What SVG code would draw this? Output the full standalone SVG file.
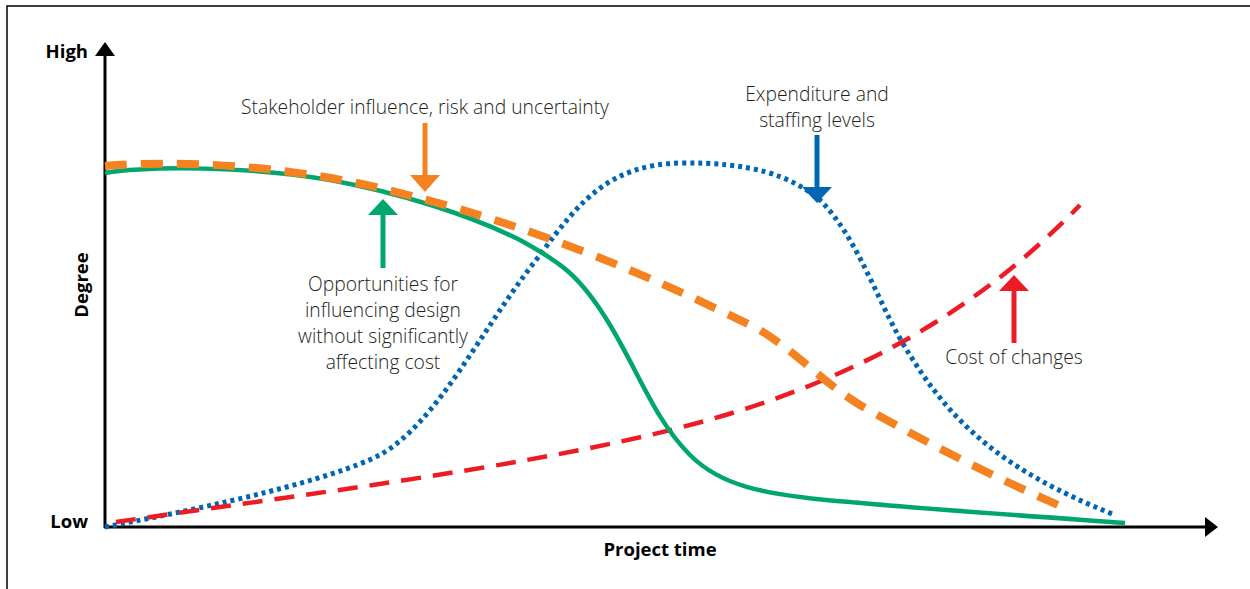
<svg xmlns="http://www.w3.org/2000/svg" width="1250" height="589" viewBox="0 0 1250 589">
<style>
.lbl{font-family:"Open Sans","Liberation Sans",sans-serif;font-size:19.3px;fill:#231f20;font-weight:300}
.ax{font-family:"Open Sans","Liberation Sans",sans-serif;font-size:18.5px;font-weight:700;fill:#000}
.axis{stroke:#000;stroke-width:3;fill:none}
</style>
<rect width="1250" height="589" fill="#fff"/>
<path d="M7,589 V6 H1250" fill="none" stroke="#000" stroke-width="1.5"/>
<g id="axes">
<path class="axis" d="M105,528 V52"/>
<path d="M95,56 L105,42 L115,56 Z" fill="#000"/>
<path class="axis" d="M104,527 H1207"/>
<path d="M1205,517 L1218,527 L1205,537 Z" fill="#000"/>
<text class="ax" x="88" y="58" text-anchor="end">High</text>
<text class="ax" x="88" y="528" text-anchor="end">Low</text>
<text class="ax" x="660" y="556" text-anchor="middle">Project time</text>
<text class="ax" transform="translate(88,285) rotate(-90)" text-anchor="middle">Degree</text>
</g>
<g id="connectors">
<path id="expenditure" d="M105,527 C220,505 330,480 380,455 C440,420 480,330 540,255 C580,200 610,165 680,163 C750,162 790,175 820,200 C860,240 880,310 910,355 C950,420 1000,470 1115,515" fill="none" stroke="#0066b3" stroke-width="5" stroke-dasharray="4 4"/>
<path id="cost" d="M116,522 C300,495 500,470 650,435 C800,400 950,340 1080,205" fill="none" stroke="#ed1c24" stroke-width="4.5" stroke-dasharray="20 12"/>
<path id="opportunities" d="M105,173 C150,166 250,166 330,180 C400,193 470,215 520,240 C560,262 580,275 610,325 C640,375 655,420 690,455 C720,485 760,495 850,502 C900,507 1000,514 1125,523" fill="none" stroke="#00a66e" stroke-width="4.5"/>
<path id="stakeholder" d="M105,166 C180,160 280,165 380,188 C480,212 600,250 760,330 C800,355 820,380 860,405 C930,445 1000,480 1065,508" fill="none" stroke="#f58220" stroke-width="8" stroke-dasharray="22 14"/>
</g>
<g id="arrow-stakeholder">
<path d="M425,123 V178" stroke="#f58220" stroke-width="5"/>
<path d="M410,175 L440,175 L425,192 Z" fill="#f58220"/>
<text class="lbl" x="425" y="114" text-anchor="middle">Stakeholder influence, risk and uncertainty</text>
</g>
<g id="arrow-opportunities">
<path d="M383,212 V268" stroke="#00a66e" stroke-width="5"/>
<path d="M368,215 L398,215 L383,199 Z" fill="#00a66e"/>
<text class="lbl" text-anchor="middle"><tspan x="383" y="291">Opportunities for</tspan><tspan x="383" y="317">influencing design</tspan><tspan x="383" y="343">without significantly</tspan><tspan x="383" y="369">affecting cost</tspan></text>
</g>
<g id="arrow-expenditure">
<path d="M817,135 V190" stroke="#0066b3" stroke-width="5"/>
<path d="M802,187 L832,187 L817,203 Z" fill="#0066b3"/>
<text class="lbl" text-anchor="middle"><tspan x="817" y="101">Expenditure and</tspan><tspan x="817" y="127">staffing levels</tspan></text>
</g>
<g id="arrow-cost">
<path d="M1014,287 V343" stroke="#ed1c24" stroke-width="5"/>
<path d="M999,291 L1029,291 L1014,275 Z" fill="#ed1c24"/>
<text class="lbl" x="1014" y="364" text-anchor="middle">Cost of changes</text>
</g>
</svg>
